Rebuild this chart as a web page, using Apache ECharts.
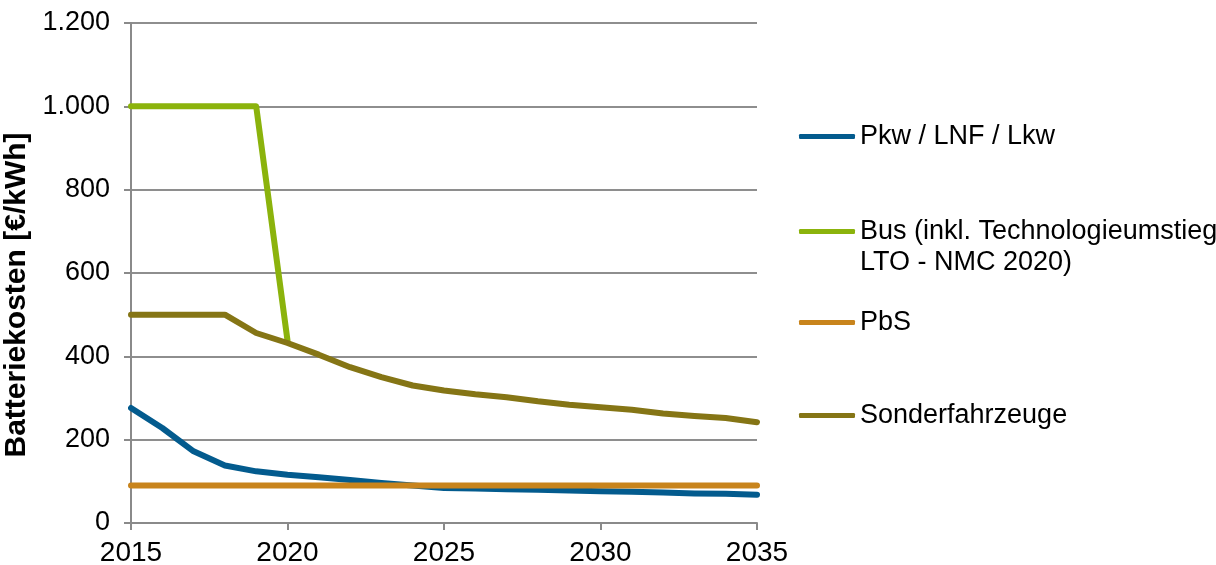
<!DOCTYPE html>
<html>
<head>
<meta charset="utf-8">
<script src="https://cdn.jsdelivr.net/npm/echarts@6/dist/echarts.min.js"></script>
<style>
html,body{margin:0;padding:0;background:#fff;}
#chart{width:1216px;height:565px;}
</style>
</head>
<body>
<div id="chart"></div>
<script>
const years = [2015,2016,2017,2018,2019,2020,2021,2022,2023,2024,2025,2026,2027,2028,2029,2030,2031,2032,2033,2034,2035];
const pkw    = [276,228,172,138,124,116,110,103,96,90,84,83,81,80,78,76,75,73,71,70,68];
const bus    = [1000,1000,1000,1000,1000,438,null,null,null,null,null,null,null,null,null,null,null,null,null,null,null];
const pbs    = [90,90,90,90,90,90,90,90,90,90,90,90,90,90,90,90,90,90,90,90,90];
const sonder = [500,500,500,500,456,432,404,374,350,330,318,309,302,292,284,278,272,263,257,252,242];
const seriesNames = ['Pkw / LNF / Lkw', 'Bus (inkl. Technologieumstieg\nLTO - NMC 2020)', 'PbS', 'Sonderfahrzeuge'];
const seriesColors = ['#035b8e', '#8bb30c', '#c8841c', '#857515'];
const yTicks = [0, 200, 400, 600, 800, 1000, 1200];
const yTitle = 'Batteriekosten [€/kWh]';

const allData = [pkw, bus, pbs, sonder];
const FONT = '"Liberation Sans", Arial, sans-serif';

function pairs(vals) { return years.map((y, i) => [y, vals[i]]); }

const legendCenters = [136, 229, 322, 415];
const legends = seriesNames.map((name, i) => {
  const multi = name.indexOf('\n') >= 0;
  return {
    data: [name],
    orient: 'vertical',
    left: 799,
    top: multi ? legendCenters[i] - 44 : legendCenters[i] - 15,
    padding: 0,
    itemWidth: 56,
    itemHeight: 5,
    icon: 'roundRect',
    selectedMode: false,
    formatter: n => multi ? '\n' + n : n,
    textStyle: {
      fontFamily: FONT, fontSize: 27, color: '#000', lineHeight: 31
    }
  };
});

const chart = echarts.init(document.getElementById('chart'), null, { renderer: 'canvas' });
chart.setOption({
  animation: false,
  backgroundColor: '#fff',
  grid: { left: 131, right: 459, top: 23, bottom: 42, containLabel: false, outerBoundsMode: 'none' },
  legend: legends,
  xAxis: {
    type: 'value', min: 2015, max: 2035, interval: 5,
    axisLine: { lineStyle: { color: '#8a8a8a', width: 2 } },
    axisTick: { show: true, length: 7, lineStyle: { color: '#8a8a8a', width: 2 } },
    splitLine: { show: false },
    axisLabel: { fontFamily: FONT, fontSize: 28, color: '#000', margin: 16, formatter: v => String(v) }
  },
  yAxis: {
    type: 'value', min: yTicks[0], max: yTicks[yTicks.length - 1], interval: 200,
    name: yTitle, nameLocation: 'middle', nameGap: 96, nameRotate: 90,
    nameTextStyle: { fontFamily: FONT, fontSize: 30, fontWeight: 'bold', color: '#000', padding: [0, 44, 0, 0] },
    axisLine: { show: true, lineStyle: { color: '#8a8a8a', width: 2 } },
    axisTick: { show: true, length: 7, lineStyle: { color: '#8a8a8a', width: 2 } },
    splitLine: { show: true, lineStyle: { color: '#8e8e8e', width: 2 } },
    axisLabel: {
      fontFamily: FONT, fontSize: 27, color: '#000', margin: 21,
      formatter: v => v >= 1000 ? Math.floor(v / 1000) + '.' + String(v % 1000).padStart(3, '0') : String(v)
    }
  },
  series: seriesNames.map((name, i) => ({
    name: name,
    type: 'line',
    data: pairs(allData[i]),
    symbol: 'none',
    showSymbol: false,
    connectNulls: false,
    color: seriesColors[i],
    lineStyle: { color: seriesColors[i], width: 6, join: 'round', cap: 'round' },
    emphasis: { disabled: true },
    z: 2 + i
  }))
});
</script>
</body>
</html>
